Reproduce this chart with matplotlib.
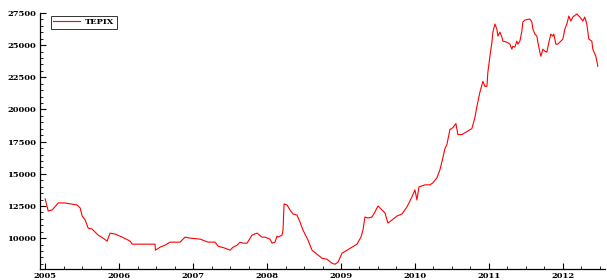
import matplotlib
matplotlib.use("Agg")
import matplotlib.pyplot as plt
from matplotlib.ticker import MultipleLocator, FixedLocator

years = [2005.000, 2005.041, 2005.095, 2005.176, 2005.270, 2005.432, 2005.473, 2005.500,
         2005.541, 2005.581, 2005.635, 2005.716, 2005.784, 2005.838, 2005.851, 2005.878,
         2005.946, 2006.041, 2006.122, 2006.149, 2006.176, 2006.486, 2006.490, 2006.554,
         2006.622, 2006.689, 2006.824, 2006.892, 2006.959, 2007.095, 2007.203, 2007.297,
         2007.338, 2007.432, 2007.500, 2007.541, 2007.595, 2007.635, 2007.676, 2007.730,
         2007.797, 2007.865, 2007.932, 2007.973, 2008.041, 2008.068, 2008.108, 2008.135,
         2008.149, 2008.203, 2008.216, 2008.230, 2008.270, 2008.311, 2008.351, 2008.405,
         2008.446, 2008.486, 2008.554, 2008.608, 2008.676, 2008.743, 2008.811, 2008.878,
         2008.919, 2008.959, 2009.014, 2009.081, 2009.149, 2009.216, 2009.270, 2009.297,
         2009.324, 2009.365, 2009.419, 2009.459, 2009.500, 2009.595, 2009.635, 2009.689,
         2009.757, 2009.824, 2009.892, 2009.959, 2010.000, 2010.027, 2010.054, 2010.135,
         2010.203, 2010.243, 2010.297, 2010.338, 2010.378, 2010.405, 2010.432, 2010.473,
         2010.514, 2010.554, 2010.581, 2010.635, 2010.703, 2010.770, 2010.811, 2010.838,
         2010.878, 2010.919, 2010.946, 2010.973, 2010.986, 2011.014, 2011.041, 2011.054,
         2011.081, 2011.108, 2011.122, 2011.149, 2011.176, 2011.189, 2011.243, 2011.284,
         2011.311, 2011.324, 2011.351, 2011.378, 2011.392, 2011.419, 2011.446, 2011.459,
         2011.486, 2011.554, 2011.581, 2011.595, 2011.622, 2011.649, 2011.662, 2011.689,
         2011.703, 2011.730, 2011.757, 2011.784, 2011.811, 2011.838, 2011.865, 2011.878,
         2011.905, 2011.932, 2011.973, 2012.000, 2012.027, 2012.054, 2012.081, 2012.108,
         2012.135, 2012.189, 2012.230, 2012.270, 2012.297, 2012.324, 2012.351, 2012.392,
         2012.405, 2012.446, 2012.473]

tepix = [13050, 12110, 12190, 12734, 12730, 12578, 12344, 11719,
         11406, 10781, 10703, 10234, 10000, 9766, 10000, 10391,
         10313, 10078, 9844, 9766, 9531, 9531, 9063, 9297,
         9453, 9688, 9688, 10078, 10000, 9922, 9688, 9688,
         9375, 9219, 9063, 9297, 9453, 9688, 9609, 9609,
         10234, 10391, 10078, 10078, 9922, 9609, 9688, 10156,
         10078, 10234, 10625, 12656, 12578, 12188, 11875, 11797,
         11250, 10625, 9844, 9063, 8750, 8438, 8359, 8047,
         7969, 8125, 8828, 9063, 9297, 9531, 10078, 10625,
         11641, 11563, 11641, 12031, 12500, 11953, 11172, 11406,
         11719, 11875, 12422, 13203, 13750, 12969, 13984, 14141,
         14141, 14297, 14688, 15313, 16250, 16953, 17266, 18438,
         18594, 18906, 18047, 18047, 18281, 18516, 19375, 20234,
         21328, 22188, 21797, 21797, 22891, 24141, 25234, 26016,
         26641, 26250, 25703, 26016, 25625, 25313, 25234, 25078,
         24688, 24922, 24844, 25313, 25078, 25313, 26094, 26797,
         26953, 27031, 26797, 26250, 25859, 25703, 25234, 24453,
         24141, 24688, 24531, 24453, 25234, 25859, 25703, 25859,
         25078, 25078, 25313, 25469, 26250, 26641, 27266, 26875,
         27188, 27422, 27188, 26875, 27188, 26641, 25469, 25313,
         24688, 24141, 23359]

year_ticks = [2005, 2006, 2007, 2008, 2009, 2010, 2011, 2012]
year_labels = ["2005", "2006", "2007", "2008", "2009", "2010", "2011", "2012"]
y_ticks = [10000, 12500, 15000, 17500, 20000, 22500, 25000, 27500]

plt.rcParams['font.family'] = ['DejaVu Serif']

fig = plt.figure(figsize=(6.07, 2.8), dpi=100)
ax = fig.add_axes([40/607, 11/280, 565/607, 256/280])
ax.plot(years, tepix, color='#ff0000', lw=0.8, label='TEPIX')

ax.set_xlim(2004.93, 2012.57)
ax.set_ylim(7600, 27500)
ax.xaxis.set_major_locator(FixedLocator(year_ticks))
ax.set_xticklabels(year_labels)
ax.xaxis.set_minor_locator(MultipleLocator(0.25))
ax.yaxis.set_major_locator(FixedLocator(y_ticks))
ax.yaxis.set_minor_locator(MultipleLocator(500))

for s in ['top', 'right']:
    ax.spines[s].set_visible(False)
for s in ['left', 'bottom']:
    ax.spines[s].set_linewidth(0.9)
    ax.spines[s].set_color('black')

ax.tick_params(which='major', direction='in', length=4, width=0.8, labelsize=6, pad=2)
ax.tick_params(which='minor', direction='in', length=2, width=0.6)
ax.tick_params(axis='y', which='major', pad=3)
for lab in ax.get_xticklabels() + ax.get_yticklabels():
    lab.set_fontweight('bold')

leg = ax.legend(loc='upper left', bbox_to_anchor=(0.015, 1.0), fontsize=6, frameon=True,
                fancybox=False, edgecolor='black', handlelength=3.2, borderpad=0.3,
                handletextpad=0.6, borderaxespad=0.3)
leg.get_frame().set_linewidth(0.7)
for t in leg.get_texts():
    t.set_fontweight('bold')

fig.savefig('out.png', dpi=100)
